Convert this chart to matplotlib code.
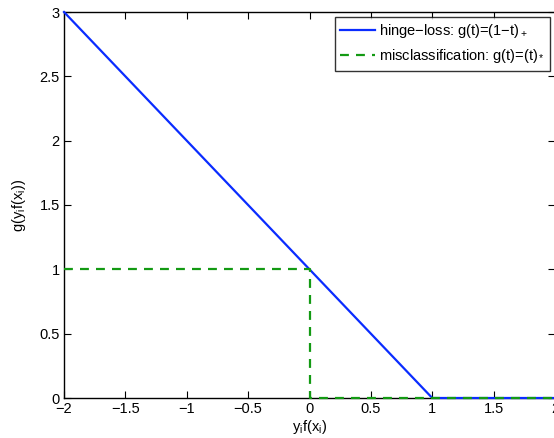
import matplotlib
matplotlib.use("Agg")
import matplotlib.pyplot as plt

plt.rcParams['font.family'] = ['Liberation Sans', 'DejaVu Sans']
plt.rcParams['mathtext.fontset'] = 'custom'
plt.rcParams['mathtext.rm'] = 'Liberation Sans'
plt.rcParams['mathtext.it'] = 'Liberation Sans'

# hinge loss and 0/1 misclassification loss as functions of the margin t
hinge_t = [-2, 1, 2]
hinge_g = [3, 0, 0]
miscl_t = [-2, 0, 0, 2]
miscl_g = [1, 1, 0, 0]

xticks = [-2, -1.5, -1, -0.5, 0, 0.5, 1, 1.5, 2]
xticklabels = ['\u22122', '\u22121.5', '\u22121', '\u22120.5', '0', '0.5', '1', '1.5', '2']
yticks = [0, 0.5, 1, 1.5, 2, 2.5, 3]
yticklabels = ['0', '0.5', '1', '1.5', '2', '2.5', '3']

W, H = 554, 438
fig = plt.figure(figsize=(W / 100, H / 100), dpi=100)
ax = fig.add_axes([64 / W, (H - 398) / H, 491 / W, 386 / H])

ax.plot(hinge_t, hinge_g, color='#0a2cff', lw=1.6,
        label=r'hinge$-$loss: g(t)=(1$-$t)$\mathregular{_+}$', clip_on=False, zorder=3)
ax.plot(miscl_t, miscl_g, color='#139a13', lw=1.6, ls=(0, (4, 3.2)),
        label=r'misclassification: g(t)=(t)$\mathregular{_*}$', clip_on=False, zorder=4)

ax.set_xlim(-2, 2)
ax.set_ylim(0, 3)
ax.set_xticks(xticks)
ax.set_xticklabels(xticklabels)
ax.set_yticks(yticks)
ax.set_yticklabels(yticklabels)
ax.tick_params(direction='in', length=5, width=0.8, top=True, right=True,
               labelsize=10.5, colors='black', pad=3)
for s in ax.spines.values():
    s.set_linewidth(1.0)

ax.set_xlabel(r'y$\mathregular{_i}$f(x$\mathregular{_i}$)', fontsize=10.5, labelpad=1)
ax.set_ylabel(r'g(y$\mathregular{_i}$f(x$\mathregular{_i}$))', fontsize=10.5, labelpad=8)

leg = ax.legend(loc='upper right', bbox_to_anchor=(486 / 491, 1 - 5 / 386),
                fontsize=10.5, frameon=True, fancybox=False, shadow=False,
                handlelength=2.4, handletextpad=0.3, borderpad=0.35,
                labelspacing=0.5, borderaxespad=0)
leg.get_frame().set_edgecolor('black')
leg.get_frame().set_linewidth(1.0)

fig.savefig('out.png', dpi=100)
